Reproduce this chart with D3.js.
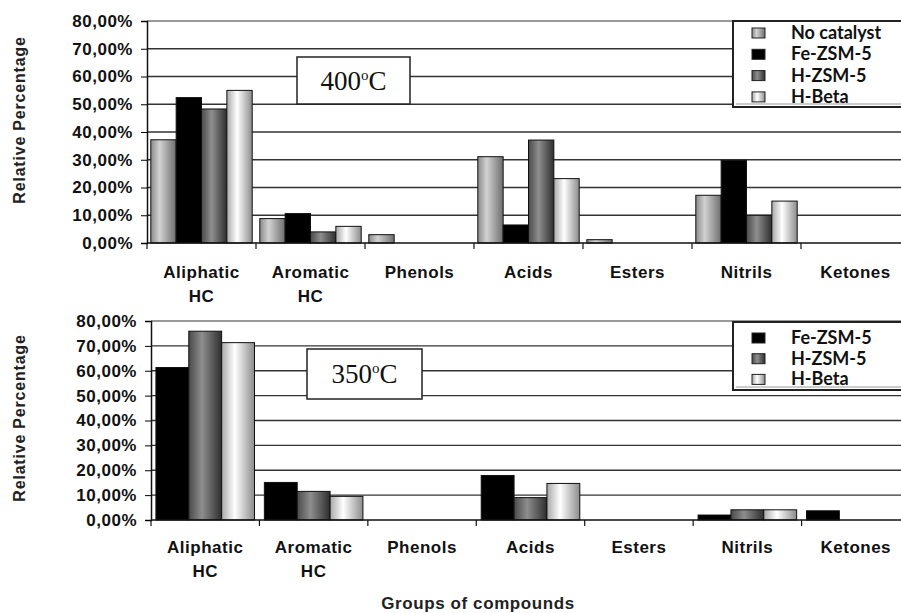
<!DOCTYPE html>
<html>
<head>
<meta charset="utf-8">
<script src="https://cdn.jsdelivr.net/npm/d3@7"></script>
<style>
  body { margin: 0; background: #fff; }
  svg { display: block; }
  .tick text { font-family: "Liberation Sans", Arial, sans-serif; font-weight: bold; }
</style>
</head>
<body>
<svg width="901" height="613"></svg>
<script>
const categories = ['Aliphatic HC', 'Aromatic HC', 'Phenols', 'Acids', 'Esters', 'Nitrils', 'Ketones']
const yTicks = [0, 0.1, 0.2, 0.3, 0.4, 0.5, 0.6, 0.7, 0.8]

// 400 C
const series400 = ['No catalyst', 'Fe-ZSM-5', 'H-ZSM-5', 'H-Beta']
const noCatalyst400 = [0.372, 0.088, 0.030, 0.311, 0.012, 0.172, 0]
const feZsm400 = [0.524, 0.106, 0, 0.065, 0, 0.298, 0]
const hZsm400 = [0.483, 0.040, 0, 0.371, 0, 0.100, 0]
const hBeta400 = [0.550, 0.060, 0, 0.232, 0, 0.151, 0]

// 350 C
const series350 = ['Fe-ZSM-5', 'H-ZSM-5', 'H-Beta']
const feZsm350 = [0.613, 0.151, 0, 0.179, 0, 0.020, 0.037]
const hZsm350 = [0.759, 0.115, 0, 0.090, 0, 0.041, 0]
const hBeta350 = [0.713, 0.095, 0, 0.147, 0, 0.041, 0]

const svg = d3.select('svg')
const defs = svg.append('defs')

function grad(id, stops) {
  const g = defs.append('linearGradient').attr('id', id)
    .attr('x1', '0%').attr('x2', '100%').attr('y1', '0%').attr('y2', '0%')
  stops.forEach(s => g.append('stop').attr('offset', s[0]).attr('stop-color', s[1]))
}
grad('gNo', [['0%', '#8a8a8a'], ['35%', '#d2d2d2'], ['100%', '#6e6e6e']])
grad('gH', [['0%', '#4a4a4a'], ['40%', '#8e8e8e'], ['100%', '#2e2e2e']])
grad('gBeta', [['0%', '#a8a8a8'], ['40%', '#ffffff'], ['100%', '#8c8c8c']])

const fills = {
  'No catalyst': 'url(#gNo)',
  'Fe-ZSM-5': '#000',
  'H-ZSM-5': 'url(#gH)',
  'H-Beta': 'url(#gBeta)'
}

const fmt = d => (d * 100).toFixed(2).replace('.', ',') + '%'

function panel(opts) {
  const g = svg.append('g')
  const x = d3.scaleBand().domain(categories).range([opts.left, 910])
  const y = d3.scaleLinear().domain([0, 0.8]).range([opts.bottom, opts.top])
  const xs = d3.scaleBand().domain(opts.series).range([0, x.bandwidth()]).paddingOuter(0.15)

  // grid
  g.selectAll('.grid').data(yTicks.slice(1)).enter().append('line')
    .attr('x1', opts.left).attr('x2', 910)
    .attr('y1', d => y(d)).attr('y2', d => y(d))
    .attr('stroke', d => d === 0.8 ? '#777' : '#333').attr('stroke-width', 1.4)

  // bars
  opts.series.forEach((s, si) => {
    const rows = categories.map((c, i) => ({ c, v: opts.values[si][i] })).filter(d => d.v > 0)
    g.selectAll('.bar' + si).data(rows).enter().append('rect')
      .attr('x', d => x(d.c) + xs(s))
      .attr('width', xs.bandwidth())
      .attr('y', d => y(d.v))
      .attr('height', d => y(0) - y(d.v))
      .attr('fill', fills[s])
      .attr('stroke', '#111').attr('stroke-width', 1)
  })

  // axes
  const ya = g.append('g').attr('transform', `translate(${opts.left},0)`)
    .call(d3.axisLeft(y).tickValues(yTicks).tickFormat(fmt).tickSize(6).tickPadding(8))
  ya.selectAll('text').attr('font-size', 17).attr('letter-spacing', 0.5).attr('fill', '#111')
  ya.select('.domain').attr('stroke', '#111').attr('stroke-width', 1.5)

  const xa = g.append('g').attr('transform', `translate(0,${opts.bottom})`)
  xa.append('line').attr('x1', opts.left).attr('x2', 910).attr('stroke', '#111').attr('stroke-width', 1.5)
  xa.selectAll('.xt').data(categories).enter().append('line')
    .attr('x1', d => x(d)).attr('x2', d => x(d)).attr('y1', 0).attr('y2', 6)
    .attr('stroke', '#111').attr('stroke-width', 1.2)
  const labels = xa.selectAll('.xl').data(categories).enter().append('text')
    .attr('x', d => x(d) + x.bandwidth() / 2)
    .attr('y', opts.labelDy)
    .attr('text-anchor', 'middle')
    .attr('font-family', '"Liberation Sans", Arial, sans-serif')
    .attr('font-weight', 'bold').attr('font-size', 17).attr('letter-spacing', 0.5)
    .attr('fill', '#111')
  labels.each(function (d) {
    const parts = d.endsWith(' HC') ? [d.split(' ')[0], 'HC'] : [d]
    parts.forEach((p, k) => d3.select(this).append('tspan')
      .attr('x', x(d) + x.bandwidth() / 2).attr('dy', k ? 24 : 0).text(p))
  })

  // y title
  g.append('text')
    .attr('transform', `translate(25,${opts.titleY}) rotate(-90)`)
    .attr('text-anchor', 'middle')
    .attr('font-family', '"Liberation Sans", Arial, sans-serif')
    .attr('font-weight', 'bold').attr('font-size', 16).attr('letter-spacing', 0.8)
    .attr('fill', '#222')
    .text('Relative Percentage')

  // temperature box
  const b = opts.box
  g.append('rect').attr('x', b.x).attr('y', b.y).attr('width', b.w).attr('height', b.h)
    .attr('fill', '#fff').attr('stroke', '#222').attr('stroke-width', 1.5)
  const t = g.append('text')
    .attr('x', b.x + b.w / 2).attr('y', b.y + b.h / 2 + 9)
    .attr('text-anchor', 'middle')
    .attr('font-family', '"Liberation Serif", "Times New Roman", serif')
    .attr('font-size', 27).attr('fill', '#111')
  t.append('tspan').text(b.label)
  t.append('tspan').attr('font-size', 15).attr('dy', -10).text('o')
  t.append('tspan').attr('dy', 10).text('C')

  // legend
  const L = opts.legend
  g.append('rect').attr('x', L.x).attr('y', L.y).attr('width', 180).attr('height', L.h)
    .attr('fill', '#fff').attr('stroke', '#222').attr('stroke-width', 2)
  g.append('line').attr('x1', L.x + 3).attr('x2', L.x + 180).attr('y1', L.y + L.h - 3).attr('y2', L.y + L.h - 3)
    .attr('stroke', '#999').attr('stroke-width', 1)
  const li = g.selectAll('.li').data(opts.series).enter().append('g')
    .attr('transform', (d, i) => `translate(${L.x},${L.y0 + i * L.step})`)
  li.append('rect').attr('x', 19).attr('y', -5).attr('width', 13).attr('height', 10)
    .attr('fill', d => fills[d]).attr('stroke', '#222').attr('stroke-width', 1)
  li.append('text').attr('x', 58).attr('y', 6)
    .attr('font-family', 'Lato, "Open Sans", sans-serif').attr('font-weight', 'bold')
    .attr('font-size', 18).attr('fill', '#111')
    .text(d => d)
}

panel({
  top: 21, bottom: 243, left: 147, titleY: 120, labelDy: 35,
  series: series400,
  values: [noCatalyst400, feZsm400, hZsm400, hBeta400],
  box: { x: 297, y: 57, w: 113, h: 47, label: '400' },
  legend: { x: 733, y: 21, h: 86, y0: 33, step: 21.3 }
})

panel({
  top: 321, bottom: 520, left: 151, titleY: 418, labelDy: 33,
  series: series350,
  values: [feZsm350, hZsm350, hBeta350],
  box: { x: 307, y: 349, w: 115, h: 50, label: '350' },
  legend: { x: 733, y: 322, h: 68, y0: 338, step: 20.7 }
})

svg.append('text')
  .attr('x', 478).attr('y', 609)
  .attr('text-anchor', 'middle')
  .attr('font-family', '"Liberation Sans", Arial, sans-serif')
  .attr('font-weight', 'bold').attr('font-size', 17).attr('letter-spacing', 0.6)
  .attr('fill', '#222')
  .text('Groups of compounds')
</script>
</body>
</html>
